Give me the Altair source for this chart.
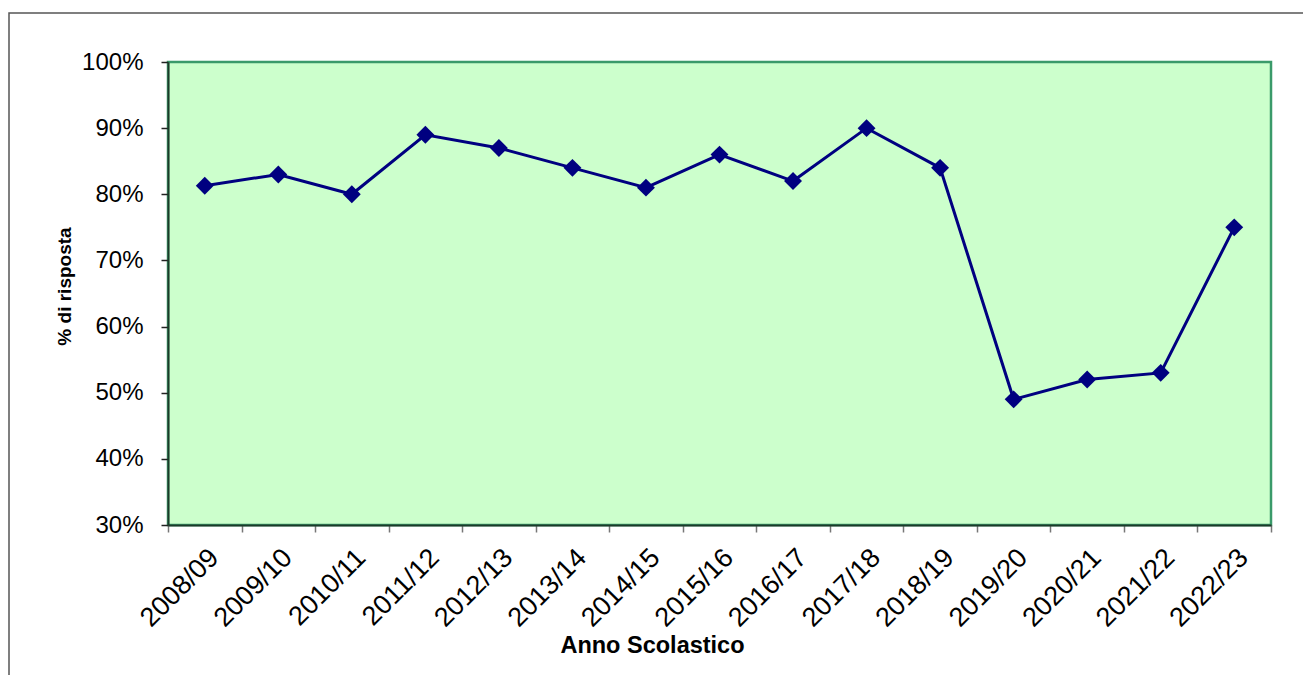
import altair as alt
import pandas as pd

years = ["2008/09", "2009/10", "2010/11", "2011/12", "2012/13", "2013/14", "2014/15",
         "2015/16", "2016/17", "2017/18", "2018/19", "2019/20", "2020/21", "2021/22", "2022/23"]
rates = [0.813, 0.83, 0.80, 0.89, 0.87, 0.84, 0.81, 0.86, 0.82, 0.90, 0.84, 0.49, 0.52, 0.53, 0.75]

df = pd.DataFrame({"anno": years, "risposta": rates})

FONT = "Liberation Sans"
W, H = 1103, 463

x_enc = alt.X(
    "anno:N", sort=years,
    scale=alt.Scale(paddingInner=0, paddingOuter=0),
    axis=alt.Axis(
        title="Anno Scolastico", titleFont=FONT, titleFontSize=23.5, titleFontWeight="bold",
        titleColor="black", titleX=484, titleY=120, titleBaseline="middle",
        labelAngle=-45, labelFont=FONT, labelFontSize=27, labelColor="black",
        labelPadding=12, tickBand="extent", tickColor="#777777", tickSize=7, tickWidth=1.5,
        domainColor="#1c3a2a", domainWidth=2, grid=False,
    ),
)
y_enc = alt.Y(
    "risposta:Q",
    scale=alt.Scale(domain=[0.3, 1.0], nice=False, zero=False),
    axis=alt.Axis(
        title="% di risposta", titleFont=FONT, titleFontSize=19, titleFontWeight="bold",
        titleColor="black", titleAngle=270, titleX=-104, titleY=224, titleBaseline="middle",
        titleAlign="center",
        format=".0%", values=[0.3, 0.4, 0.5, 0.6, 0.7, 0.8, 0.9, 1.0],
        labelFont=FONT, labelFontSize=24, labelColor="black", labelPadding=18,
        tickColor="#222222", tickSize=7, tickWidth=1.5,
        domainColor="#1c3a2a", domainWidth=2, grid=False,
    ),
)

frame = alt.Chart(pd.DataFrame({"k": [0]})).mark_rect(
    fill=None, stroke="#555555", strokeWidth=1.5, clip=False
).encode(
    x=alt.value(-159), x2=alt.value(W + 60),
    y=alt.value(-49), y2=alt.value(H + 200),
)

base = alt.Chart(df)
line = base.mark_line(color="#000080", strokeWidth=3).encode(x=x_enc, y=y_enc)
pts = base.mark_point(shape="diamond", filled=True, color="#000080", size=320, opacity=1).encode(
    x=alt.X("anno:N", sort=years), y="risposta:Q"
)

chart = alt.layer(frame, line, pts).properties(
    width=W, height=H,
    autosize=alt.AutoSizeParams(type="none"),
    padding={"left": 160, "top": 54, "right": 32, "bottom": 150},
    background="white",
).configure_view(
    fill="#CCFFCC", stroke="#3a9a6a", strokeWidth=2.5,
)

chart.save("out.html", embed_options={"renderer": "svg", "actions": False})
